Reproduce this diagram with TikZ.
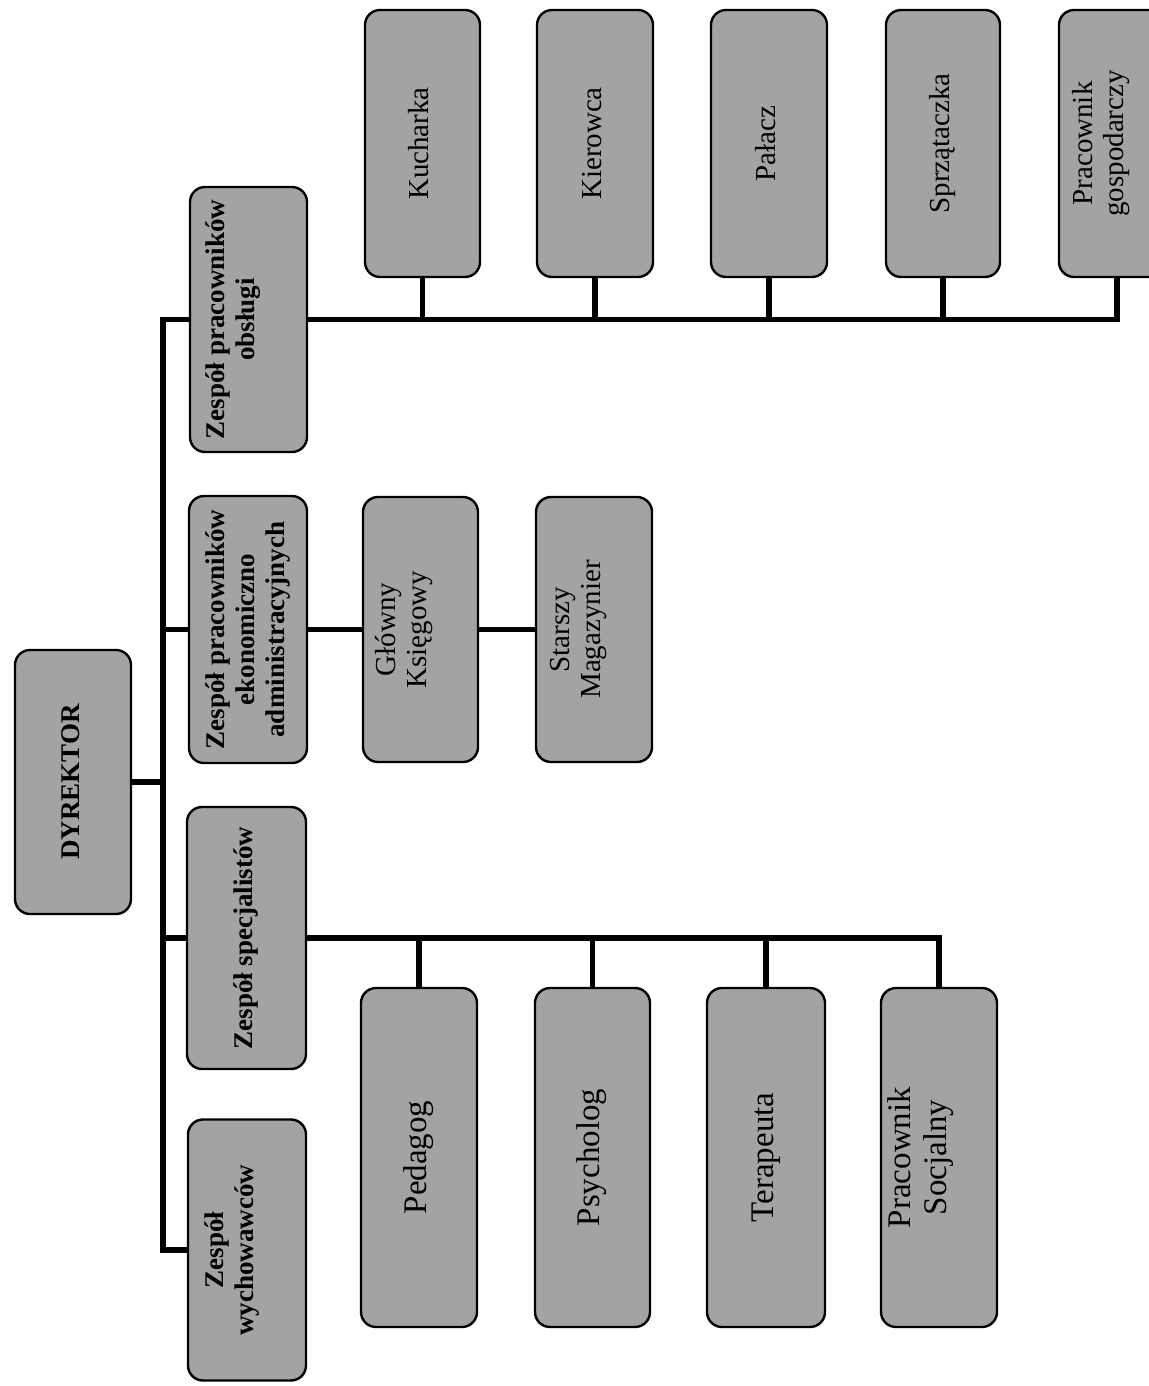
\documentclass[tikz,border=0pt]{standalone}
\usepackage{fontspec}
\setmainfont{Liberation Serif}
\usepackage{graphicx}
\definecolor{boxgray}{gray}{0.64}
\newcommand{\LtwoText}[1]{\rotatebox{90}{\fontsize{13.5}{15}\selectfont\bfseries\begin{tabular}{@{}c@{}}#1\end{tabular}}}
\newcommand{\LthreeText}[1]{\rotatebox{90}{\fontsize{14.5}{15.5}\selectfont\begin{tabular}{@{}c@{}}#1\end{tabular}}}
\newcommand{\LspecText}[1]{\rotatebox{90}{\fontsize{16.5}{18}\selectfont\begin{tabular}{@{}c@{}}#1\end{tabular}}}
\tikzset{
  orgbox/.style 2 args={draw=black, line width=1.2pt, fill=boxgray,
    rounded corners=7.5pt, minimum width=#1*0.5pt, minimum height=#2*0.5pt,
    inner sep=0pt, align=center},
  conn/.style={draw=black, line width=2.8pt, line join=miter}
}
\begin{document}
\begin{tikzpicture}[x=0.5pt,y=-0.5pt]
\clip (0,0) rectangle (1149,1386);
% director
\node[orgbox={116}{264}] (dyr) at (73,782) {\LtwoText{DYREKTOR}};
% level 2
\node[orgbox={117}{265}] (obs) at (248.5,319.5) {\LtwoText{Zespół pracowników\\obsługi\\\mbox{}}};
\node[orgbox={118}{267}] (eko) at (248,629.5) {\LtwoText{Zespół pracowników\\ekonomiczno\\administracyjnych}};
\node[orgbox={119}{262}] (spec) at (246.5,938) {\LtwoText{Zespół specjalistów}};
\node[orgbox={118}{261}] (wych) at (247,1250) {\LtwoText{Zespół\\wychowawców\\\mbox{}}};
% service staff
\node[orgbox={115}{267}] (kuch) at (422.5,143.5) {\LthreeText{Kucharka}};
\node[orgbox={116}{267}] (kier) at (595,143.5) {\LthreeText{Kierowca}};
\node[orgbox={116}{267}] (pal) at (769,143.5) {\LthreeText{Pałacz}};
\node[orgbox={114}{267}] (sprz) at (943,143.5) {\LthreeText{Sprzątaczka}};
\node[orgbox={116}{267}] (pg) at (1117,143.5) {\LthreeText{Pracownik\\gospodarczy\\\mbox{}}};
% economic staff
\node[orgbox={115}{265}] (gk) at (420.5,629.5) {\LthreeText{Główny\\Księgowy\\\mbox{}}};
\node[orgbox={116}{265}] (sm) at (594,629.5) {\LthreeText{Starszy\\Magazynier\\\mbox{}}};
% specialists
\node[orgbox={116}{339}] (ped) at (419,1157.5) {\LspecText{Pedagog}};
\node[orgbox={115}{339}] (psy) at (592.5,1157.5) {\LspecText{Psycholog}};
\node[orgbox={118}{339}] (ter) at (766,1157.5) {\LspecText{Terapeuta}};
\node[orgbox={116}{339}] (soc) at (939,1157.5) {\LspecText{Pracownik\\Socjalny\\\mbox{}}};
% connectors
\coordinate (T) at (163,0);
\draw[conn] (dyr.east) -- (dyr.east -| T);
\draw[conn] (obs.west) -- (obs.west -| T) -- (wych.west -| T) -- (wych.west);
\draw[conn] (eko.west -| T) -- (eko.west);
\draw[conn] (spec.west -| T) -- (spec.west);
\draw[conn] (obs.east) -- (obs.east -| pg.south) -- (pg.south);
\foreach \n in {kuch,kier,pal,sprz}{\draw[conn] (\n.south) -- (\n.south |- obs.east);}
\draw[conn] (eko.east) -- (gk.west);
\draw[conn] (gk.east) -- (sm.west);
\draw[conn] (spec.east) -- (spec.east -| soc.north) -- (soc.north);
\foreach \n in {ped,psy,ter}{\draw[conn] (\n.north |- spec.east) -- (\n.north);}
\end{tikzpicture}
\end{document}
